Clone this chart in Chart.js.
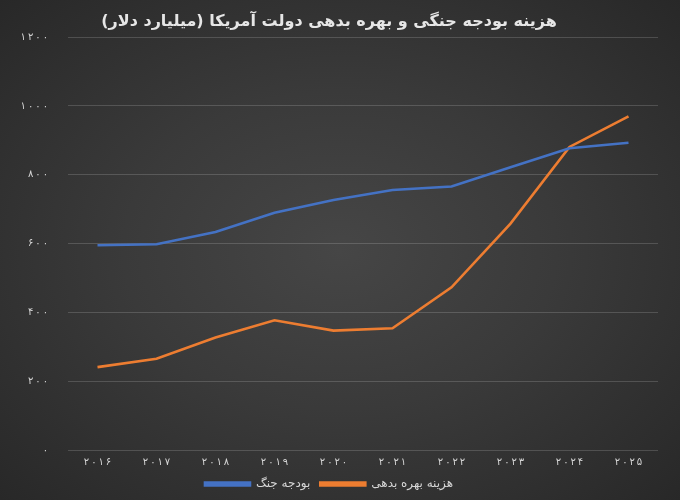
<!DOCTYPE html>
<html lang="fa">
<head>
<meta charset="utf-8">
<title>هزینه بودجه جنگی و بهره بدهی دولت آمریکا</title>
<script src="https://cdn.jsdelivr.net/npm/chart.js@4.4.1/dist/chart.umd.min.js"></script>
<style>
  html, body { margin: 0; padding: 0; }
  body {
    width: 680px; height: 500px; overflow: hidden;
    background: radial-gradient(ellipse at 50% 50%, #464646 0%, #3a3a3a 45%, #282828 100%);
  }
  #wrap { position: relative; width: 680px; height: 500px; }
</style>
</head>
<body>
<div id="wrap"><canvas id="chart"></canvas></div>
<script>
// years on the x axis (Persian digits, as in the picture)
var years = ['۲۰۱۶', '۲۰۱۷', '۲۰۱۸', '۲۰۱۹', '۲۰۲۰', '۲۰۲۱', '۲۰۲۲', '۲۰۲۳', '۲۰۲۴', '۲۰۲۵'];

// series, billion dollars
var warBudget = [595, 598, 634, 690, 727, 756, 766, 822, 877, 893];
var debtInterest = [241, 265, 327, 377, 347, 354, 473, 658, 881, 970];

// y tick labels
var yTicks = ['۰', '۲۰۰', '۴۰۰', '۶۰۰', '۸۰۰', '۱۰۰۰', '۱۲۰۰'];

var textColor = '#d6d6d6';
var fontFamily = '"DejaVu Sans", "Noto Sans", sans-serif';

function spaced(s) {
  return s.split('').join('\u2009');
}

var ctx = document.getElementById('chart').getContext('2d');
new Chart(ctx, {
  type: 'line',
  data: {
    labels: years,
    datasets: [
      {
        label: 'بودجه جنگ',
        data: warBudget,
        borderColor: '#4472C4',
        backgroundColor: '#4472C4',
        borderWidth: 2.6,
        pointRadius: 0,
        tension: 0
      },
      {
        label: 'هزینه بهره بدهی',
        data: debtInterest,
        borderColor: '#ED7D31',
        backgroundColor: '#ED7D31',
        borderWidth: 2.6,
        pointRadius: 0,
        tension: 0
      }
    ]
  },
  options: {
    responsive: true,
    maintainAspectRatio: false,
    animation: false,
    layout: { padding: { left: 0, right: 22, top: 0, bottom: 0 } },
    plugins: {
      title: {
        display: true,
        text: 'هزینه بودجه جنگی و بهره بدهی دولت آمریکا (میلیارد دلار)',
        color: '#e6e6e6',
        font: { family: fontFamily, size: 16, weight: 'bold' },
        padding: { top: 12, bottom: 6 }
      },
      legend: {
        position: 'bottom',
        labels: {
          color: textColor,
          font: { family: fontFamily, size: 12 },
          boxWidth: 45,
          boxHeight: 3,
          padding: 10
        }
      },
      tooltip: { enabled: false }
    },
    scales: {
      x: {
        offset: true,
        grid: { display: false, drawTicks: false },
        border: { display: false },
        ticks: {
          color: textColor,
          font: { family: fontFamily, size: 10 },
          maxRotation: 0,
          padding: 6,
          callback: function (v, i) { return spaced(years[i]); }
        },
        afterFit: function (scale) { scale.height = 18; }
      },
      y: {
        min: 0,
        max: 1200,
        grid: { color: 'rgba(255,255,255,0.16)', drawTicks: false, lineWidth: 1 },
        border: { display: false },
        ticks: {
          stepSize: 200,
          color: textColor,
          font: { family: fontFamily, size: 10 },
          padding: 20,
          callback: function (v) { return spaced(yTicks[v / 200]); }
        },
        afterFit: function (scale) { scale.width = 68; }
      }
    }
  }
});
</script>
</body>
</html>
